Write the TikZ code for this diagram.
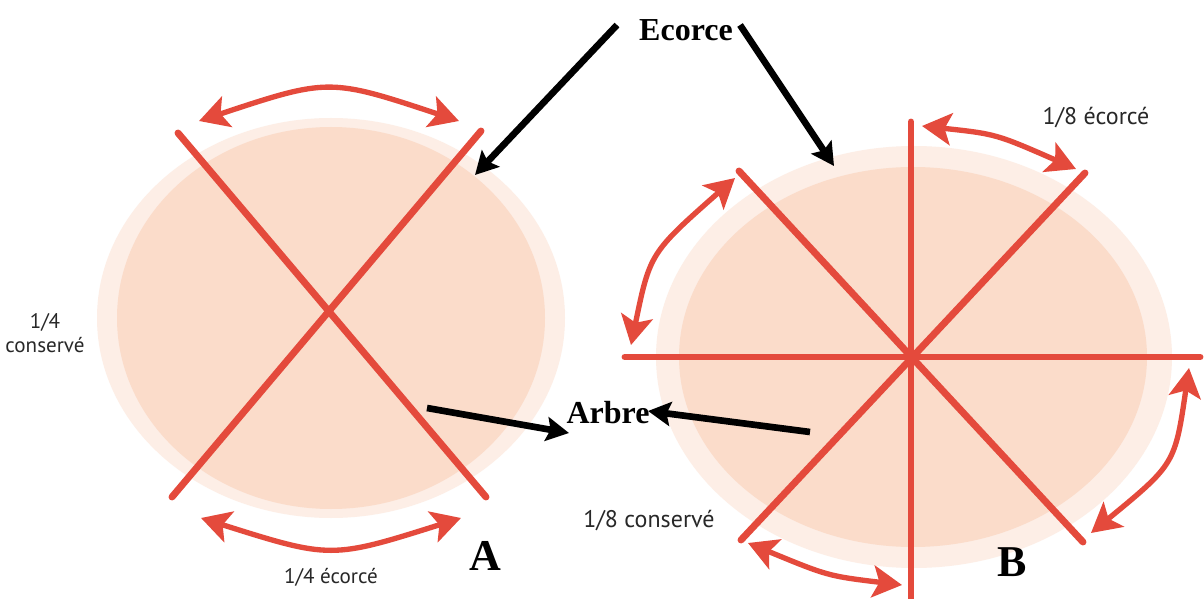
\documentclass[tikz,border=0pt]{standalone}
\usepackage{fontspec}
\setmainfont{Liberation Serif}
\newfontfamily\labfont{PT Sans}
\usetikzlibrary{arrows.meta}
\definecolor{cutred}{RGB}{228,74,60}
\definecolor{woodfill}{RGB}{251,220,202}
\definecolor{barkfill}{RGB}{253,238,230}
\definecolor{labgray}{RGB}{40,40,40}
\begin{document}
\begin{tikzpicture}[x=0.75pt,y=-0.75pt,
  cut/.style={draw=cutred,line width=5.2pt,line cap=round},
  redtip/.tip={Stealth[length=22pt,width=24pt,inset=5pt]},
  swing/.style={draw=cutred,line width=4pt,redtip-redtip},
  blk/.style={draw=black,line width=5pt,-{Stealth[length=17pt,width=18pt,inset=3pt]}},
  big/.style={font=\bfseries\fontsize{24}{28}\selectfont,inner sep=0pt},
  letter/.style={font=\bfseries\fontsize{33}{36}\selectfont,inner sep=0pt},
  labA/.style={font=\labfont\fontsize{15.8}{17}\selectfont,inner sep=0pt,text=labgray},
  labB/.style={font=\labfont\fontsize{18}{19}\selectfont,inner sep=0pt,text=labgray}]
\useasboundingbox (0,0) rectangle (1204,599);
\fill[white] (0,0) rectangle (1204,599);
% left log
\fill[barkfill] (331,318) ellipse [x radius=234,y radius=200];
\fill[woodfill] (331,318) ellipse [x radius=214,y radius=191];
\coordinate (L1) at (178,133); \coordinate (L2) at (486,497);
\coordinate (L3) at (481,131); \coordinate (L4) at (172,497);
\draw[cut] (L1) -- (L2);
\draw[cut] (L3) -- (L4);
\coordinate (La1) at (199,121); \coordinate (La2) at (459,121);
\coordinate (La3) at (201,518); \coordinate (La4) at (461,518);
\draw[swing] (La1) .. controls (329,78) .. (La2);
\draw[swing] (La3) .. controls (331,559) .. (La4);
% right log
\fill[barkfill] (914,357) ellipse [x radius=258,y radius=211];
\fill[woodfill] (913,357) ellipse [x radius=234,y radius=190];
\coordinate (R1) at (911,122); \coordinate (R2) at (911,598);
\coordinate (R3) at (625,357); \coordinate (R4) at (1200,357);
\coordinate (R5) at (739,171); \coordinate (R6) at (1083,542);
\coordinate (R7) at (1085,173); \coordinate (R8) at (741,540);
\draw[cut] (R1) -- (R2);
\draw[cut] (R3) -- (R4);
\draw[cut] (R5) -- (R6);
\draw[cut] (R7) -- (R8);
\coordinate (Ra1) at (922,126); \coordinate (Ra2) at (1076,169);
\coordinate (Ra3) at (735,178); \coordinate (Ra4) at (631,345);
\coordinate (Ra5) at (1189,368); \coordinate (Ra6) at (1091,533);
\coordinate (Ra7) at (748,543); \coordinate (Ra8) at (902,585);
\draw[swing] (Ra1) .. controls (996,134) .. (Ra2);
\draw[swing] (Ra3) .. controls (650,253) .. (Ra4);
\draw[swing] (Ra5) .. controls (1175,464) .. (Ra6);
\draw[swing] (Ra7) .. controls (828,576) .. (Ra8);
% labels
\node[big] (ecorce) at (686,30) {Ecorce};
\node[big] (arbre) at (608,413) {Arbre};
\node[letter] (A) at (485,556) {A};
\node[letter] (B) at (1012,562) {B};
\node[labA,align=center] (keep4) at (45,333) {1/4\\[1pt]conservé};
\node[labA] (cut4) at (331,577) {1/4 écorcé};
\node[labB] (keep8) at (649,521) {1/8 conservé};
\node[labB] (cut8) at (1096,118) {1/8 écorcé};
% black arrows
\coordinate (e1) at (617,25); \coordinate (e2) at (740,25);
\coordinate (barkL) at (475,175); \coordinate (barkR) at (834,166);
\coordinate (a1) at (427,408); \coordinate (a2) at (810,432);
\coordinate (arbL) at (569,433); \coordinate (arbR) at (648,411);
\draw[blk] (e1) -- (barkL);
\draw[blk] (e2) -- (barkR);
\draw[blk] (a1) -- (arbL);
\draw[blk] (a2) -- (arbR);
\end{tikzpicture}
\end{document}
